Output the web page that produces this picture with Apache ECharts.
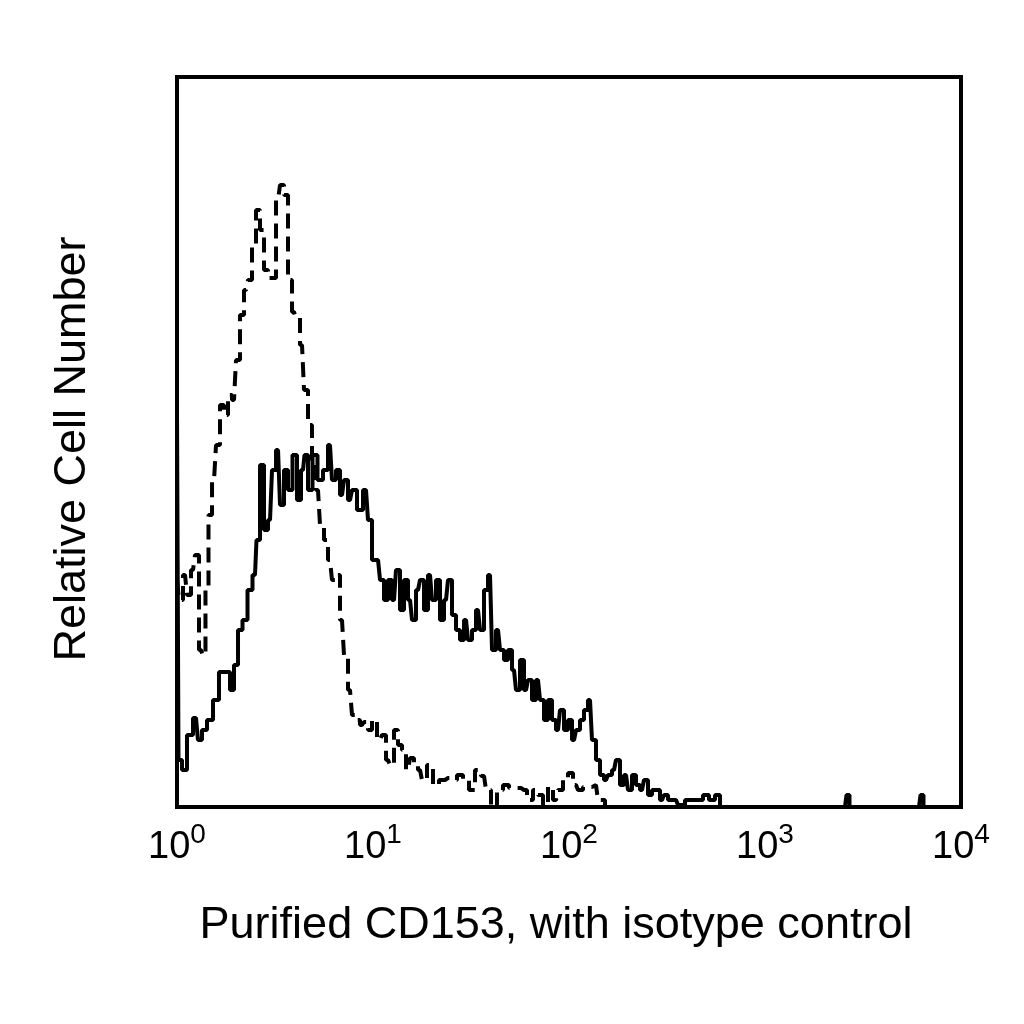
<!doctype html>
<html>
<head>
    <meta charset="utf-8">
    <title>CD153</title>
    <script src="https://cdn.jsdelivr.net/npm/echarts@6/dist/echarts.min.js"></script>
    <style>
        html, body { margin: 0; padding: 0; background: #fff; }
        #chart { width: 1024px; height: 1024px; }
    </style>
</head>
<body>
<div id="chart"></div>
<script>
    // CD153 (solid) histogram, fluorescence value / cell count
    var cd153X = [1.00, 1.00, 1.036, 1.086, 1.165, 1.250, 1.310, 1.373, 1.474, 1.581, 1.696,
        1.820, 1.908, 2.000, 2.097, 2.223, 2.358, 2.500, 2.590, 2.715, 2.846,
        2.983, 3.126, 3.277, 3.434, 3.599, 3.772, 4.000, 4.193, 4.395, 4.552,
        4.771, 5.059, 5.365, 5.757, 6.034, 6.324, 6.629, 6.948, 7.282, 7.633,
        8.000, 8.585, 9.211, 9.654, 10.12, 10.61, 11.12, 11.65, 12.21, 12.80,
        13.41, 14.06, 14.74, 15.45, 16.19, 16.97, 17.78, 18.64, 19.54, 20.48,
        21.46, 22.49, 23.58, 24.71, 25.90, 27.15, 28.46, 29.83, 31.26, 32.76,
        34.34, 35.99, 37.72, 39.54, 41.44, 43.44, 45.52, 47.71, 50.00, 52.41,
        54.93, 57.57, 60.34, 63.24, 66.29, 69.48, 72.82, 76.32, 80.00, 83.85,
        87.89, 92.11, 96.54, 101.2, 106.1, 111.2, 116.5, 122.1, 128.0, 134.1,
        140.6, 147.4, 154.5, 161.9, 169.7, 177.8, 186.4, 195.4, 204.8, 214.6,
        224.9, 235.8, 247.1, 259.0, 271.5, 284.6, 298.3, 312.6, 327.7, 351.6,
        368.5, 414.4, 466.1, 500.0, 536.6, 575.7, 603.4,
        2559, 2651, 2747, 6106, 6324, 6551, 10000];
    var cd153Y = [0, 395, 47, 37, 72, 89, 67, 77, 87, 107, 135,
        135, 117, 142, 177, 187, 217, 232, 267, 342, 277,
        287, 337, 357, 302, 337, 317, 352, 307, 337, 352,
        317, 352, 327, 337, 362, 327, 337, 312, 327, 307,
        317, 297, 317, 287, 247, 247, 227, 207, 227, 207,
        237, 197, 227, 207, 187, 217, 227, 197, 232, 207,
        227, 187, 207, 227, 192, 177, 167, 187, 167, 177,
        197, 177, 217, 232, 157, 177, 157, 147, 157, 137,
        117, 147, 117, 127, 107, 127, 107, 87, 107, 87,
        77, 97, 77, 87, 67, 77, 87, 97, 107, 67,
        47, 32, 27, 32, 37, 47, 22, 32, 17, 32,
        22, 17, 27, 12, 17, 17, 7, 12, 7, 7,
        2, 7, 7, 12, 7, 12, 0,
        0, 12, 0, 0, 12, 0, 0];

    // isotype control (dashed)
    var isoX = [1.00, 1.048, 1.099, 1.151, 1.207, 1.265, 1.326, 1.373, 1.422, 1.474,
        1.545, 1.619, 1.696, 1.778, 1.864, 1.954, 2.047, 2.146, 2.250, 2.358,
        2.471, 2.590, 2.715, 2.846, 2.983, 3.126, 3.277, 3.434, 3.599, 3.772,
        3.954, 4.144, 4.344, 4.552, 4.771, 5.000, 5.241, 5.492, 5.757, 6.034,
        6.324, 6.629, 6.948, 7.282, 7.633, 8.000, 8.385, 8.789, 9.211, 9.654,
        10.12, 10.86, 11.38, 11.93, 12.50, 13.10, 13.73, 14.39, 15.09, 15.81,
        16.57, 17.37, 18.20, 19.54, 20.96, 22.49, 24.13, 25.90, 27.79, 29.83,
        32.00, 34.34, 36.85, 38.62, 41.44, 44.46, 47.71, 51.19, 54.93, 58.94,
        63.24, 67.86, 71.13, 76.32, 80.00, 85.85, 89.98, 96.54, 101.2, 108.6,
        113.8, 122.1, 131.0, 137.3, 143.9, 161.9];
    var isoY = [227, 207, 232, 212, 237, 252, 157, 152, 217, 292,
        327, 362, 402, 392, 412, 407, 447, 492, 517, 527,
        562, 597, 577, 537, 529, 529, 607, 622, 612, 527,
        495, 489, 462, 417, 382, 347, 317, 282, 267, 247,
        227, 232, 187, 152, 117, 92, 87, 82, 85, 77,
        87, 67, 72, 47, 42, 77, 62, 57, 37, 49,
        42, 37, 27, 42, 22, 27, 29, 27, 32, 27,
        17, 37, 31, 17, 0, 17, 22, 19, 19, 17,
        7, 17, 12, 2, 20, 7, 17, 29, 34, 22,
        17, 20, 20, 22, 7, 0];

    var countMax = 730;
    var supDigits = {0: '0', 1: '1', 2: '2', 3: '3', 4: '4'};

    function pairs(xs, ys) {
        var out = [];
        for (var i = 0; i < xs.length; i++) out.push([xs[i], ys[i]]);
        return out;
    }

    var myChart = echarts.init(document.getElementById('chart'));
    var font = 'Liberation Sans, Arial, sans-serif';

    option = {
        backgroundColor: '#fff',
        animation: false,
        grid: {
            left: 177, right: 63, top: 77, bottom: 217,
            show: true, borderColor: '#000', borderWidth: 4,
            backgroundColor: 'transparent'
        },
        xAxis: {
            type: 'log',
            logBase: 10,
            min: 1,
            max: 10000,
            axisLine: { show: false },
            axisTick: { show: false },
            splitLine: { show: false },
            minorTick: { show: false },
            axisLabel: {
                margin: 14,
                showMinLabel: true,
                showMaxLabel: true,
                formatter: function (v) {
                    var e = Math.round(Math.log(v) / Math.LN10);
                    return '{b|10}{s|' + supDigits[e] + '}';
                },
                rich: {
                    b: { fontFamily: font, fontSize: 38, color: '#000', lineHeight: 46, verticalAlign: 'bottom' },
                    s: { fontFamily: font, fontSize: 28, color: '#000', lineHeight: 46, verticalAlign: 'top' }
                }
            },
            name: 'Purified CD153, with isotype control',
            nameLocation: 'middle',
            nameGap: 96,
            nameTextStyle: { fontFamily: font, fontSize: 45, color: '#000', padding: [0, 26, 0, 0] }
        },
        yAxis: {
            type: 'value',
            min: 0,
            max: countMax,
            axisLine: { show: false },
            axisTick: { show: false },
            axisLabel: { show: false },
            splitLine: { show: false },
            name: 'Relative Cell Number',
            nameLocation: 'middle',
            nameGap: 82,
            nameTextStyle: { fontFamily: font, fontSize: 45, color: '#000', padding: [0, 14, 0, 0] }
        },
        series: [
            {
                name: 'isotype',
                type: 'line',
                step: 'middle',
                symbol: 'none',
                data: pairs(isoX, isoY),
                lineStyle: { color: '#000', width: 4, type: [15, 8] },
                z: 3
            },
            {
                name: 'CD153',
                type: 'line',
                step: 'middle',
                symbol: 'none',
                data: pairs(cd153X, cd153Y),
                lineStyle: { color: '#000', width: 4 },
                z: 4
            }
        ]
    };

    myChart.setOption(option);
</script>
</body>
</html>
